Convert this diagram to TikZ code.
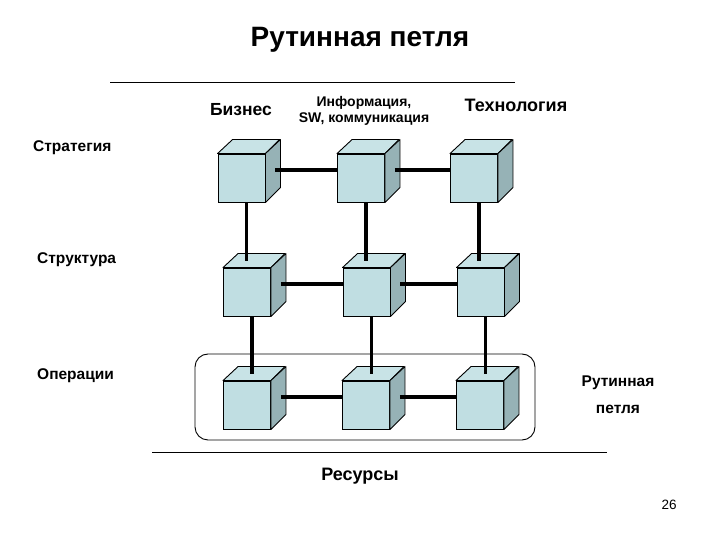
\documentclass[tikz,border=0pt]{standalone}
\usepackage{fontspec}
\setmainfont{Liberation Sans}
\usetikzlibrary{calc}
\definecolor{cubefrontc}{RGB}{192,222,226}
\definecolor{cubetopc}{RGB}{200,227,230}
\definecolor{cubesidec}{RGB}{150,178,182}
\tikzset{
  cubefront/.style={draw=black, line width=0.9pt, fill=cubefrontc, minimum width=47pt, minimum height=48pt, inner sep=0pt},
  cubeface/.style={draw=black, line width=0.9pt, line join=round},
  link/.style={line width=3.6pt},
  rule/.style={line width=0.9pt},
  lbl/.style={font=\bfseries\fontsize{15.5}{18}\selectfont, inner sep=0pt},
}
\newcommand\mycube[3]{%
  \node[cubefront] (#1) at (#2,#3) {};
  \filldraw[cubeface, fill=cubetopc] (#1.north west) -- ++(15,14) -- ++(47,0) -- (#1.north east) -- cycle;
  \filldraw[cubeface, fill=cubesidec] (#1.north east) -- ++(15,14) -- ++(0,-48) -- (#1.south east) -- cycle;
}
\newcommand\vlink[2]{%
  \coordinate (va) at ($(#1.south)+(5,0)$);
  \coordinate (vb) at ($(#2.north)+(0,7)$);
  \draw[link] (va) -- (vb -| va);
}
\begin{document}
\begin{tikzpicture}[x=1pt,y=1pt]
\useasboundingbox (0,0) rectangle (720,540);
% title
\node[font=\bfseries\fontsize{28}{32}\selectfont, inner sep=0pt] (title) at (360,500) {Рутинная петля};
\coordinate (tr1) at (110,458);
\coordinate (tr2) at (515,458);
\draw[rule] (tr1) -- (tr2);
% column headers
\node[lbl, font=\bfseries\fontsize{17.5}{20}\selectfont] (biz) at (241,430) {Бизнес};
\node[lbl, font=\bfseries\fontsize{14}{16.5}\selectfont, align=center] (info) at (364,429) {Информация,\\SW, коммуникация};
\node[lbl, font=\bfseries\fontsize{18}{20}\selectfont] (tech) at (516,435) {Технология};
% row labels
\node[lbl, anchor=west] (strat) at (33,392) {Стратегия};
\node[lbl, anchor=west] (struct) at (37,280) {Структура};
\node[lbl, anchor=west] (oper) at (37,164) {Операции};
% routine loop box
\node[draw, rounded corners=13pt, line width=0.9pt, minimum width=340pt, minimum height=86pt, inner sep=0pt] (loop) at (365,143) {};
\node[lbl, align=center, font=\bfseries\fontsize{15.5}{27}\selectfont] (looplbl) at (618,145) {Рутинная\\петля};
% cubes
\mycube{c11}{241.5}{362}
\mycube{c12}{361}{362}
\mycube{c13}{474}{362}
\mycube{c21}{247}{248}
\mycube{c22}{366.5}{248}
\mycube{c23}{480.5}{248}
\mycube{c31}{247}{135}
\mycube{c32}{366}{135}
\mycube{c33}{480}{135}
% horizontal links
\foreach \r in {1,2,3}{
  \draw[link] ($(c\r1.east)+(10,8)$) -- ($(c\r2.west)+(0,8)$);
  \draw[link] ($(c\r2.east)+(10,8)$) -- ($(c\r3.west)+(0,8)$);
}
% vertical links
\vlink{c11}{c21}
\vlink{c12}{c22}
\vlink{c13}{c23}
\vlink{c21}{c31}
\vlink{c22}{c32}
\vlink{c23}{c33}
% bottom
\coordinate (br1) at (152,88);
\coordinate (br2) at (607,88);
\draw[rule] (br1) -- (br2);
\node[lbl, font=\bfseries\fontsize{18}{20}\selectfont] (res) at (360,64) {Ресурсы};
\node[inner sep=0pt, font=\fontsize{13.5}{16}\selectfont] (page) at (669,35) {26};
\end{tikzpicture}
\end{document}
